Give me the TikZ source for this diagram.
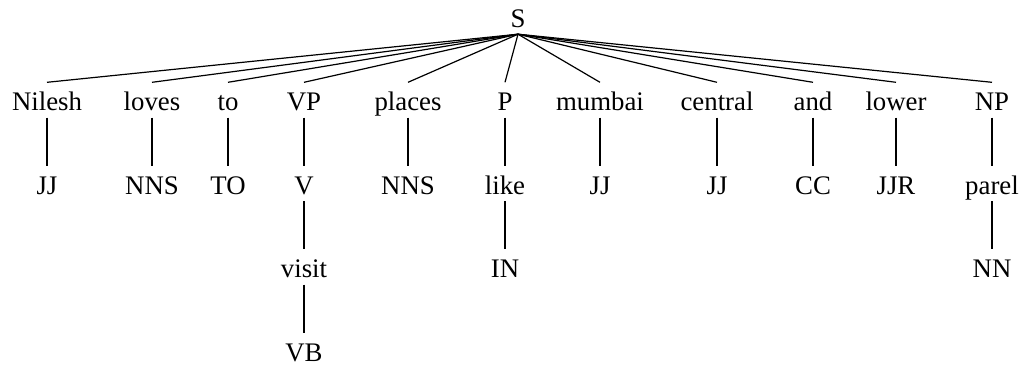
\documentclass[tikz,border=0pt]{standalone}
\usepackage{fontspec}
\setmainfont{Liberation Serif}
\begin{document}
\begin{tikzpicture}[x=1pt,y=-1pt,
  tn/.style={anchor=base,inner sep=0pt,text height=28pt,text depth=7pt,font=\fontsize{26.8}{30}\selectfont},
  edge/.style={line width=1.2pt,black}]
\useasboundingbox (0,0) rectangle (1028,365);
\node[tn] (S) at (518,27) {S};
% level 1
\node[tn] (n1) at (47,110.5) {Nilesh};
\node[tn] (n2) at (152,110.5) {loves};
\node[tn] (n3) at (228,110.5) {to};
\node[tn] (n4) at (304,110.5) {VP};
\node[tn] (n5) at (408,110.5) {places};
\node[tn] (n6) at (505,110.5) {P};
\node[tn] (n7) at (600,110.5) {mumbai};
\node[tn] (n8) at (717,110.5) {central};
\node[tn] (n9) at (813,110.5) {and};
\node[tn] (n10) at (896,110.5) {lower};
\node[tn] (n11) at (992,110.5) {NP};
% level 2
\node[tn] (m1) at (47,194) {JJ};
\node[tn] (m2) at (152,194) {NNS};
\node[tn] (m3) at (228,194) {TO};
\node[tn] (m4) at (304,194) {V};
\node[tn] (m5) at (408,194) {NNS};
\node[tn] (m6) at (505,194) {like};
\node[tn] (m7) at (600,194) {JJ};
\node[tn] (m8) at (717,194) {JJ};
\node[tn] (m9) at (813,194) {CC};
\node[tn] (m10) at (896,194) {JJR};
\node[tn] (m11) at (992,194) {parel};
% level 3
\node[tn] (v3) at (304,277.5) {visit};
\node[tn] (i3) at (505,277.5) {IN};
\node[tn] (p3) at (992,277.5) {NN};
% level 4
\node[tn] (v4) at (304,361) {VB};
\foreach \i in {1,...,11} {
  \draw[edge] (S.south) -- (n\i.north);
  \draw[edge] (n\i.south) -- (m\i.north);
}
\draw[edge] (m4.south) -- (v3.north);
\draw[edge] (m6.south) -- (i3.north);
\draw[edge] (m11.south) -- (p3.north);
\draw[edge] (v3.south) -- (v4.north);
\end{tikzpicture}
\end{document}
